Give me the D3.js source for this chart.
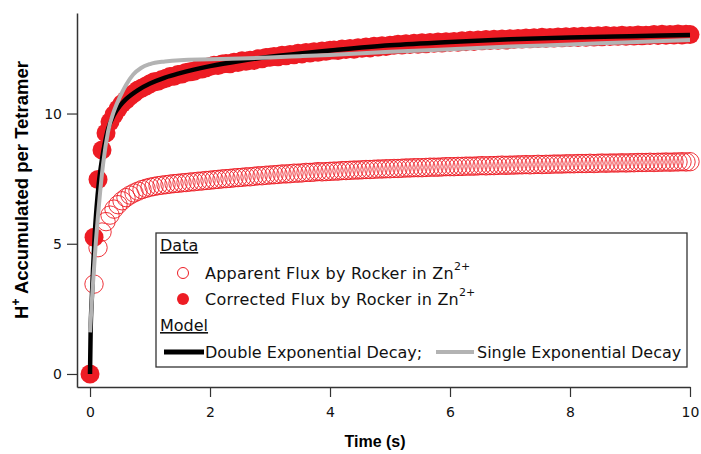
<!DOCTYPE html>
<html><head><meta charset="utf-8">
<script src="https://cdn.jsdelivr.net/npm/d3@7"></script>
<style>body{margin:0;background:#fff}svg{display:block}</style>
</head><body><svg id="c" width="701" height="454"></svg>
<script>
// time base: one sample every 1/15 s from 0 to 10 s
const sampleStep = 1/15;
const apparent = [0,3.45,4.85,5.45,5.85,6.10,6.33,6.50,6.65,6.77,6.87,6.95,7.02,7.08,7.13,7.17,
7.20,7.23,7.25,7.27,7.29,7.31,7.32,7.34,7.35,7.37,7.38,7.40,7.41,7.43,7.44,
7.46,7.47,7.49,7.50,7.51,7.53,7.54,7.55,7.57,7.57,7.59,7.61,7.61,7.63,7.64,
7.65,7.66,7.68,7.68,7.69,7.71,7.71,7.72,7.74,7.74,7.75,7.77,7.76,7.77,7.78,
7.79,7.79,7.81,7.81,7.82,7.83,7.83,7.84,7.85,7.85,7.86,7.87,7.87,7.88,7.88,
7.89,7.89,7.90,7.91,7.91,7.92,7.92,7.92,7.93,7.94,7.94,7.94,7.95,7.96,7.96,
7.96,7.97,7.97,7.98,7.98,7.98,7.99,8.00,7.99,8.00,8.00,8.01,8.02,8.01,8.02,
8.02,8.03,8.03,8.04,8.03,8.04,8.05,8.04,8.05,8.05,8.06,8.06,8.06,8.07,8.07,
8.07,8.08,8.08,8.08,8.09,8.08,8.09,8.10,8.09,8.10,8.10,8.10,8.11,8.10,8.11,
8.11,8.12,8.12,8.12,8.13,8.12,8.13,8.13,8.14,8.13,8.14,8.14,8.15,8.14,8.15];
const corrected = [0,5.25,7.47,8.60,9.25,9.68,9.95,10.18,10.38,10.52,10.66,10.78,10.90,10.98,11.06,11.14,
11.22,11.24,11.31,11.35,11.42,11.43,11.50,11.52,11.58,11.60,11.62,11.70,11.71,11.76,11.81,
11.85,11.84,11.90,11.92,11.91,11.97,11.96,12.03,12.01,12.05,12.04,12.10,12.10,12.15,12.16,
12.19,12.18,12.24,12.22,12.27,12.26,12.31,12.29,12.34,12.32,12.37,12.35,12.40,12.39,12.43,
12.44,12.42,12.48,12.46,12.50,12.47,12.53,12.51,12.55,12.52,12.58,12.55,12.60,12.57,12.62,
12.62,12.66,12.63,12.68,12.65,12.70,12.66,12.72,12.68,12.73,12.70,12.75,12.71,12.76,12.74,
12.77,12.74,12.79,12.76,12.81,12.77,12.82,12.79,12.84,12.80,12.85,12.81,12.86,12.82,12.87,
12.85,12.88,12.86,12.90,12.87,12.91,12.88,12.93,12.89,12.92,12.90,12.94,12.91,12.95,12.92,
12.96,12.92,12.97,12.93,12.98,12.94,12.99,12.95,13.00,12.96,12.99,12.97,13.01,12.97,13.00,
12.98,13.02,12.99,13.01,13.00,13.03,13.00,13.04,13.01,13.03,13.02,13.05,13.02,13.04,13.03];
// model curves
const doubleT = [0,0.01,0.03,0.05,0.08,0.11,0.15,0.2,0.25,0.3,0.4,0.5,0.6,0.8,1.0,1.25,1.5,2,2.5,3,3.5,4,5,6,7,8,9,10];
const doubleV = [0,1.6,2.9,4.0,5.4,6.4,7.4,8.25,8.9,9.4,9.95,10.3,10.55,10.9,11.15,11.38,11.55,11.82,12.02,12.18,12.31,12.42,12.62,12.75,12.85,12.92,12.97,13.02];
const singleT = [0,0.03,0.056,0.095,0.13,0.167,0.22,0.3,0.4,0.5,0.6,0.72,0.85,1.0,1.25,1.5,2,2.5,3,3.5,4,5,6,7,8,9,10];
const singleV = [1.6,2.8,3.7,5.0,6.0,6.95,8.1,9.3,10.1,10.65,11.1,11.5,11.75,11.9,12.0,12.05,12.08,12.11,12.15,12.2,12.25,12.37,12.47,12.57,12.65,12.74,12.82];
const xTicks = [0,2,4,6,8,10];
const yTicks = [0,5,10];

const red = "#ed1c24";
const svg = d3.select("#c");
const x = d3.scaleLinear().domain([-0.217, 10]).range([77, 690]);
const y = d3.scaleLinear().domain([-0.5, 13.86]).range([387, 13]);
const tickFont = "'DejaVu Sans', sans-serif";

const corrPts = corrected.map((v,i)=>[i*sampleStep, v]);
const appPts = apparent.map((v,i)=>[i*sampleStep, v]);

svg.append("g").selectAll("circle").data(corrPts).join("circle")
  .attr("cx", d=>x(d[0])).attr("cy", d=>y(d[1])).attr("r", 9.5).attr("fill", red);
svg.append("g").selectAll("circle").data(appPts.slice(1)).join("circle")
  .attr("cx", d=>x(d[0])).attr("cy", d=>y(d[1])).attr("r", 9.2)
  .attr("fill", "none").attr("stroke", red).attr("stroke-width", 0.9);

const line = d3.line().x(d=>x(d[0])).y(d=>y(d[1])).curve(d3.curveMonotoneX);
svg.append("path").datum(doubleT.map((t,i)=>[t,doubleV[i]])).attr("d", line)
  .attr("fill","none").attr("stroke","#000").attr("stroke-width",4.5);
svg.append("path").datum(singleT.map((t,i)=>[t,singleV[i]])).attr("d", line)
  .attr("fill","none").attr("stroke","#b3b3b3").attr("stroke-width",4);

// axes
const axCol = "#333";
const gx = svg.append("g").attr("transform","translate(0,387)")
  .call(d3.axisBottom(x).tickValues(xTicks).tickSize(10).tickPadding(10).tickSizeOuter(0));
const gy = svg.append("g").attr("transform","translate(77,0)")
  .call(d3.axisLeft(y).tickValues(yTicks).tickSize(10).tickPadding(5).tickSizeOuter(0));
[gx,gy].forEach(g=>{
  g.select(".domain").attr("stroke",axCol).attr("stroke-width",1.5);
  g.selectAll(".tick line").attr("stroke",axCol).attr("stroke-width",1.2);
  g.selectAll(".tick text").attr("fill","#111").style("font-family",tickFont).style("font-size","14px");
});

// axis titles
svg.append("text").attr("x",375).attr("y",447).attr("text-anchor","middle")
  .style("font-family","'Liberation Sans', Arial, sans-serif").style("font-weight","bold").style("font-size","16px")
  .text("Time (s)");
const yt = svg.append("text").attr("transform","translate(28,190) rotate(-90)").attr("text-anchor","middle")
  .style("font-family","'Liberation Sans', Arial, sans-serif").style("font-weight","bold").style("font-size","18.5px");
yt.append("tspan").text("H");
yt.append("tspan").attr("dy",-8).style("font-size","12px").text("+");
yt.append("tspan").attr("dy",8).text(" Accumulated per Tetramer");

// legend
const lg = svg.append("g");
lg.append("rect").attr("x",156).attr("y",233).attr("width",531).attr("height",134)
  .attr("fill","#fff").attr("stroke","#333").attr("stroke-width",1.3);
const lf = "'DejaVu Sans', sans-serif";
function ltext(xp, yp, s){
  return lg.append("text").attr("x",xp).attr("y",yp).style("font-family",lf).style("font-size","16px").attr("fill","#111").text(s);
}
ltext(160,251,"Data").style("text-decoration","underline");
lg.append("circle").attr("cx",183).attr("cy",273).attr("r",5.5).attr("fill","none").attr("stroke",red).attr("stroke-width",1);
const t1 = ltext(205,279,"Apparent Flux by Rocker in Zn").style("letter-spacing","0.25px");
t1.append("tspan").attr("dy",-9).style("font-size","11px").style("letter-spacing","0px").text("2+");
lg.append("circle").attr("cx",183).attr("cy",299).attr("r",6).attr("fill",red);
const t2 = ltext(205,305,"Corrected Flux by Rocker in Zn").style("letter-spacing","0.25px");
t2.append("tspan").attr("dy",-9).style("font-size","11px").style("letter-spacing","0px").text("2+");
ltext(160,331,"Model").style("text-decoration","underline");
lg.append("line").attr("x1",164).attr("x2",204).attr("y1",352).attr("y2",352).attr("stroke","#000").attr("stroke-width",5);
ltext(205,358,"Double Exponential Decay;");
lg.append("line").attr("x1",436).attr("x2",474).attr("y1",352).attr("y2",352).attr("stroke","#b3b3b3").attr("stroke-width",4);
ltext(477,358,"Single Exponential Decay");
</script></body></html>
